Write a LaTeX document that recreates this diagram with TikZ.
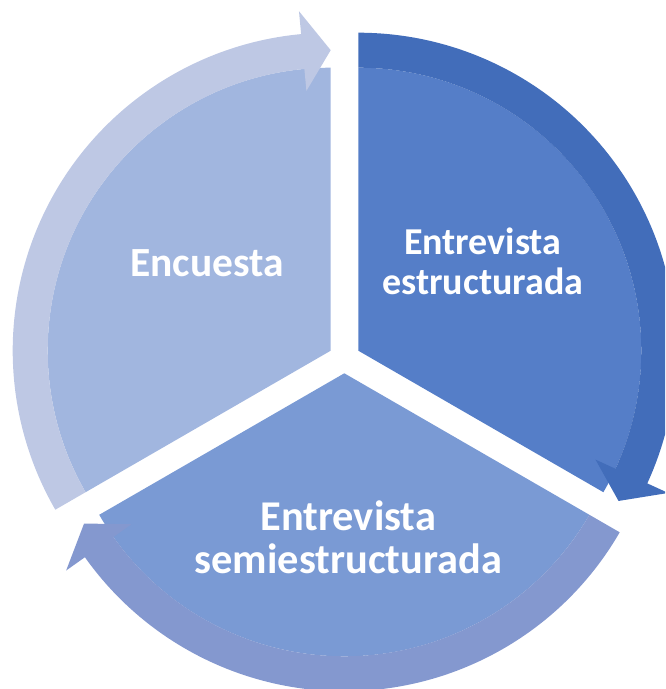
\documentclass[tikz,border=0pt]{standalone}
\usepackage{fontspec}
\setmainfont{Carlito}
\definecolor{encfill}{HTML}{A1B6DF}
\definecolor{encband}{HTML}{BEC8E4}
\definecolor{estrfill}{HTML}{557EC8}
\definecolor{estrband}{HTML}{426DBA}
\definecolor{semifill}{HTML}{7A9AD4}
\definecolor{semiband}{HTML}{8498CF}
\begin{document}
\begin{tikzpicture}[x=1pt, y=1pt, txt/.style={text=white, inner sep=0pt, align=center}]
\useasboundingbox (0,0) rectangle (665,689);
\clip (0,0) rectangle (665,689);
\coordinate (oEnc) at (330.7,338.3);
\coordinate (oEstr) at (358.3,338.3);
\coordinate (oSemi) at (344.3,315.7);

% segments
\fill[encfill] (oEnc) -- ++(90:283pt) arc[start angle=90, end angle=210, radius=283pt] -- cycle;
\fill[estrfill] (oEstr) -- ++(-30:283pt) arc[start angle=-30, end angle=90, radius=283pt] -- cycle;
\fill[semifill] (oSemi) -- ++(210:283pt) arc[start angle=210, end angle=330, radius=283pt] -- cycle;

% circular arrows
\fill[encband, shift={(oEnc)}] (210:318pt) arc[start angle=210, end angle=95.34, radius=318pt]
  -- (95.34:341pt) -- (90:300.5pt) -- (95.34:261pt) -- (95.34:283pt)
  arc[start angle=95.34, end angle=210, radius=283pt] -- cycle;
\fill[estrband, shift={(oEstr)}] (90:318pt) arc[start angle=90, end angle=-24.66, radius=318pt]
  -- (-24.66:341pt) -- (-30:300.5pt) -- (-24.66:261pt) -- (-24.66:283pt)
  arc[start angle=-24.66, end angle=90, radius=283pt] -- cycle;
\fill[semiband, shift={(oSemi)}] (330:318pt) arc[start angle=330, end angle=215.34, radius=318pt]
  -- (215.34:341pt) -- (210:300.5pt) -- (215.34:261pt) -- (215.34:283pt)
  arc[start angle=215.34, end angle=330, radius=283pt] -- cycle;

% labels
\node[txt, font={\bfseries\fontsize{41.5}{44}\selectfont}, anchor=base] (Enc) at (207,412.3) {Encuesta};
\node[txt, font={\bfseries\fontsize{38}{40}\selectfont}, anchor=base] (Estr) at (482.8,394) {Entrevista\\estructurada};
\node[txt, font={\bfseries\fontsize{42.4}{42.6}\selectfont}, anchor=base] (Semi) at (348.3,115.7) {Entrevista\\semiestructurada};
\end{tikzpicture}
\end{document}
